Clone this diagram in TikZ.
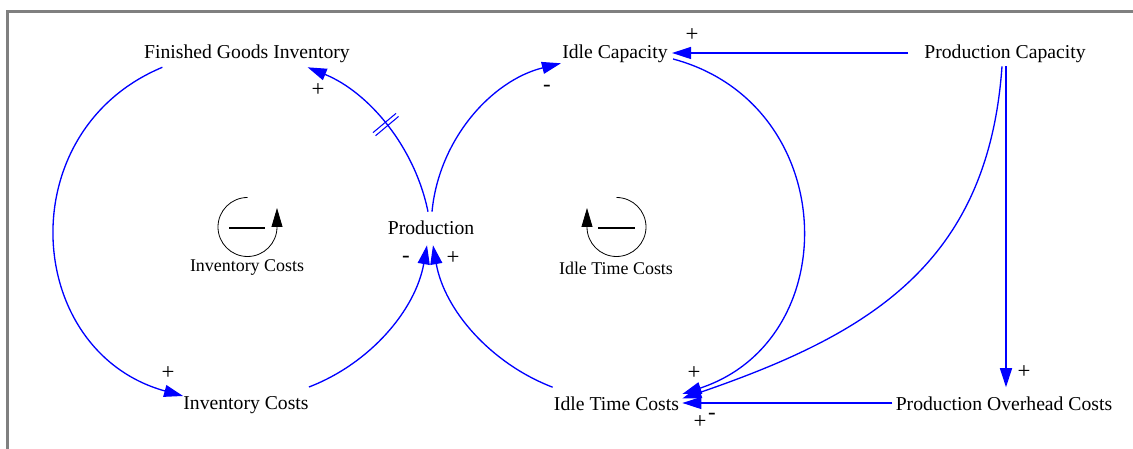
\documentclass[tikz,border=0pt]{standalone}
\usepackage{fontspec}
\setmainfont{Liberation Serif}
\usepackage{tikz}
\usetikzlibrary{arrows.meta,calc,decorations.markings,positioning}
\definecolor{ink}{HTML}{000000}
\definecolor{link}{HTML}{0000FF}
\definecolor{frame}{HTML}{808080}
\tikzset{
  var/.style={inner sep=0pt,font=\fontsize{11.2}{13}\selectfont,text=ink},
  loopname/.style={inner sep=0pt,font=\fontsize{10.2}{12}\selectfont,text=ink},
  pol/.style={inner sep=0pt,font=\fontsize{13}{15}\selectfont,text=ink},
  lnk/.style={link,line width=0.75pt,-{Triangle[length=0.38cm,width=0.24cm]}},
  lp/.style={ink,line width=0.45pt,-{Triangle[length=0.38cm,width=0.22cm]}},
  bar/.style={ink,line width=1.2pt},
  hash/.style={postaction={decorate,decoration={markings,mark=at position #1 with
    {\draw[link,line width=0.6pt,-] (-0.04cm,-0.3cm) -- (-0.04cm,0.3cm) (0.04cm,-0.3cm) -- (0.04cm,0.3cm);}}}},
  >=Triangle}

\begin{document}
\begin{tikzpicture}[x=0.02cm,y=0.02cm]
\useasboundingbox (0,0) rectangle (1133,449);
\draw[frame,line width=1.4pt] (7.5,0) -- (7.5,437.5) -- (1133,437.5);

% variables
\node[var] (fgi) at (247,395) {Finished Goods Inventory};
\node[var] (idlecap) at (615,395) {Idle Capacity};
\node[var] (prodcap) at (1005,395) {Production Capacity};
\node[var] (prod) at (431,221) {Production};
\node[var] (invcost) at (246,44) {Inventory Costs};
\node[var] (idletime) at (616.5,45.5) {Idle Time Costs};
\node[var] (overhead) at (1004,45.5) {Production Overhead Costs};

% loops
\coordinate (linv) at (247.5,222);
\coordinate (lidle) at (616.5,222);
\draw[lp] ($(linv)+(0,29.5)$) arc[start angle=90,end angle=360,radius=29.5] -- ++(0,19);
\draw[bar] ($(linv)+(-18.5,-1)$) -- ++(36,0);
\node[loopname] (loopinv) at (247,181) {Inventory Costs};
\draw[lp] ($(lidle)+(0,29.5)$) arc[start angle=90,end angle=-180,radius=29.5] -- ++(0,19);
\draw[bar] ($(lidle)+(-18.5,-1)$) -- ++(37,0);
\node[loopname] (loopidle) at (616,181) {Idle Time Costs};

% links
\draw[lnk] ($(fgi.south west)+(18.5,-4)$) to[out=202.6,in=164.5,looseness=1.29] (invcost.north west);
\draw[lnk] ($(invcost.north east)+(0,9)$) to[out=21,in=-100,looseness=0.91] ($(prod.south)+(-4,-10)$);
\draw[lnk,hash=0.5] ($(prod.north)+(-3,9)$) to[out=101.5,in=-22.2,looseness=0.9] ($(fgi.south east)+(-42.5,-4)$);
\draw[lnk] ($(prod.north)+(1,9)$) to[out=84.6,in=-166,looseness=0.94] ($(idlecap.south west)+(-1,0)$);
\draw[lnk] ($(idlecap.east)+(5,-5)$) to[out=-15,in=18.3,looseness=1.32] ($(idletime.east)+(3,9.5)$);
\draw[lnk] ($(idletime.north west)+(-1,9)$) to[out=159,in=-80,looseness=0.91] ($(prod.south)+(2,-10)$);
\draw[lnk] ($(prodcap.west)+(-16,1)$) -- ($(idlecap.east)+(4,1)$);
\draw[lnk] ($(prodcap.south)+(1,-3)$) -- ($(overhead.north)+(2,9)$);
\draw[lnk] ($(prodcap.south)+(-3,-3)$) to[out=-94,in=19,looseness=1.1] ($(idletime.east)+(3,5)$);
\draw[lnk] ($(overhead.west)+(-3,0.5)$) -- ($(idletime.east)+(3,0.5)$);

% polarities
\node[pol] (sfgi) at (318,359) {+};
\node[pol] (sidlecap) at (547,361) {-};
\node[pol] (scap) at (692,414) {+};
\node[pol] (sinv) at (168,76) {+};
\node[pol] (sprodl) at (406,190) {-};
\node[pol] (sprodr) at (453,191) {+};
\node[pol] (sidlea) at (694,76) {+};
\node[pol] (sidleb) at (700,27) {+};
\node[pol] (sidlec) at (712,33) {-};
\node[pol] (sover) at (1024,77) {+};
\end{tikzpicture}
\end{document}
